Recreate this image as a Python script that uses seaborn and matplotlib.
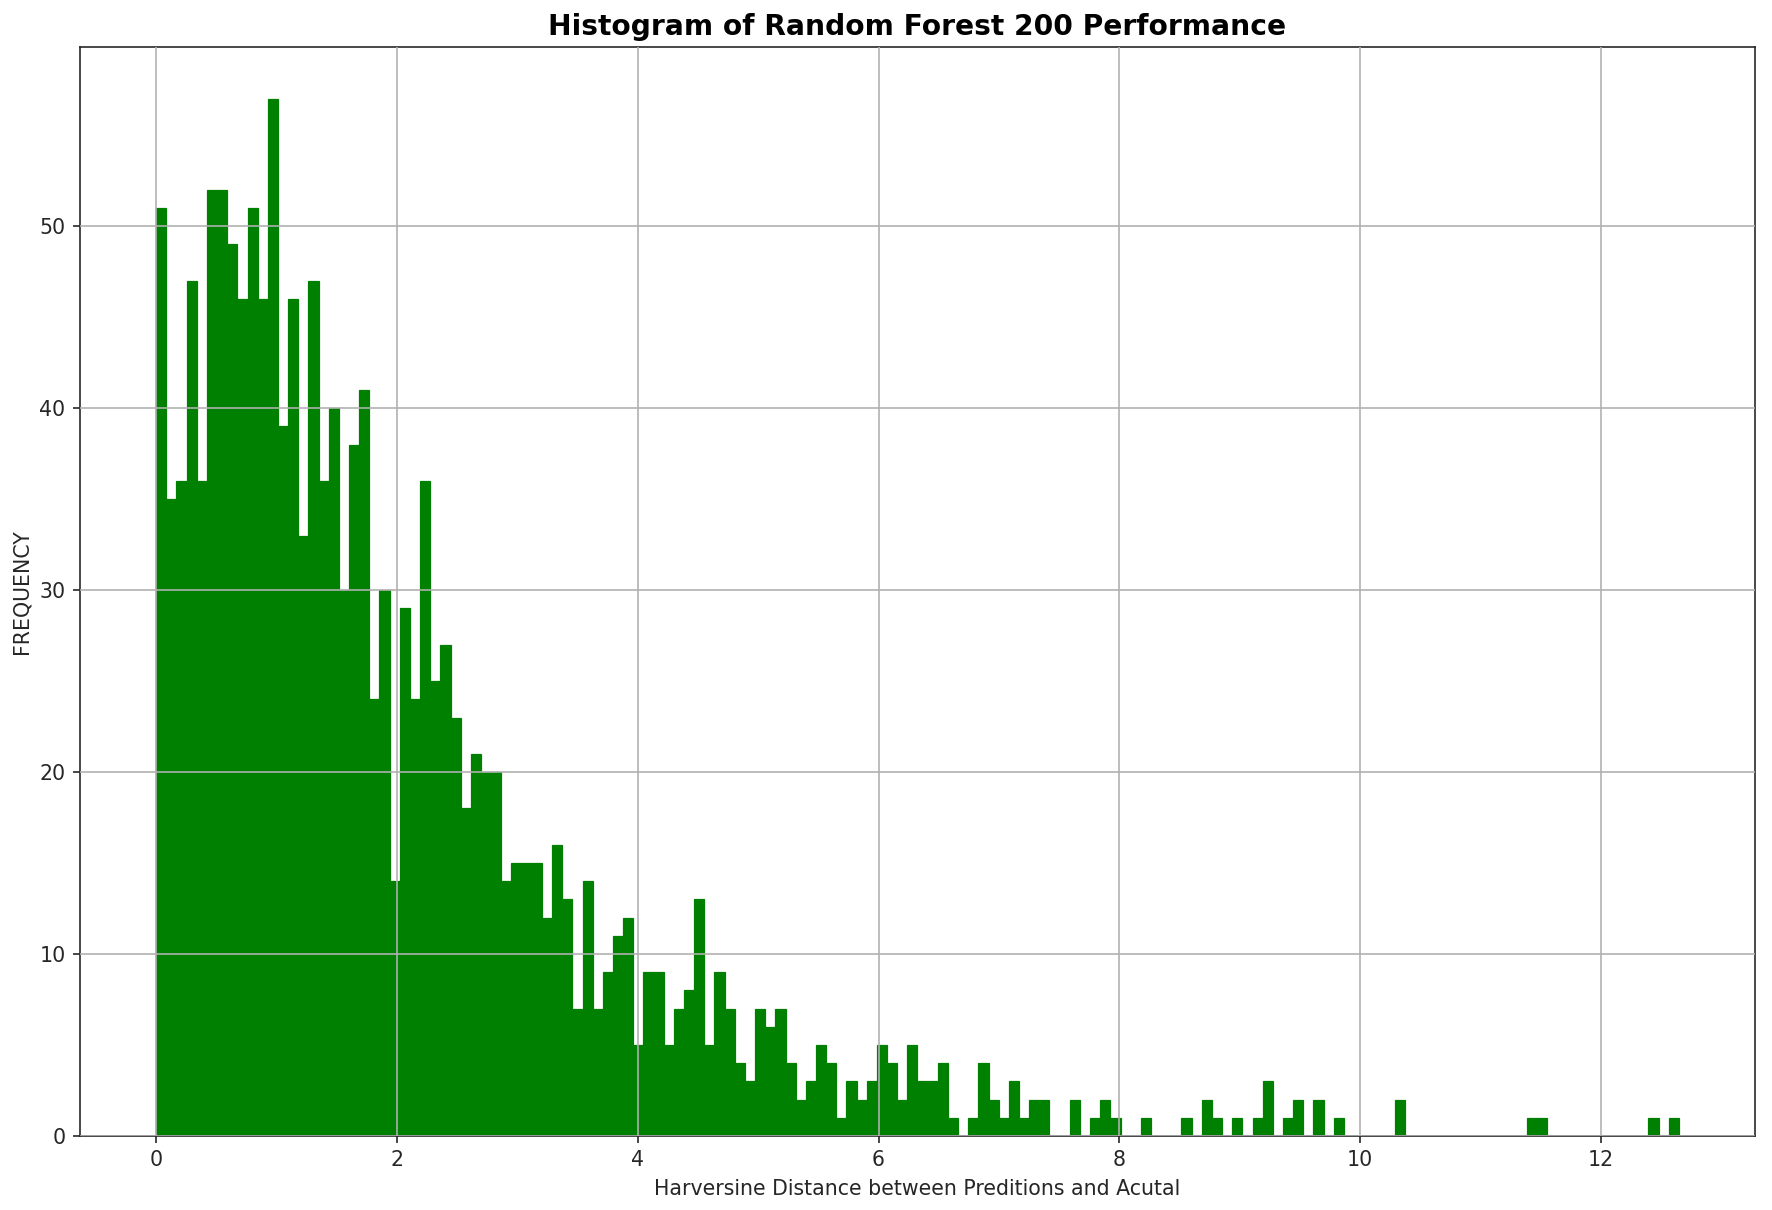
import numpy as np
import pandas as pd
import matplotlib
matplotlib.use("Agg")
import matplotlib.pyplot as plt
import seaborn as sns

# ---- data ----
x_min = 0.0
x_max = 12.647
counts = [
    51, 35, 36, 47, 36, 52, 52, 49, 46, 51,
    46, 57, 39, 46, 33, 47, 36, 40, 30, 38,
    41, 24, 30, 14, 29, 24, 36, 25, 27, 23,
    18, 21, 20, 20, 14, 15, 15, 15, 12, 16,
    13, 7, 14, 7, 9, 11, 12, 5, 9, 9,
    5, 7, 8, 13, 5, 9, 7, 4, 3, 7,
    6, 7, 4, 2, 3, 5, 4, 1, 3, 2,
    3, 5, 4, 2, 5, 3, 3, 4, 1, 0,
    1, 4, 2, 1, 3, 1, 2, 2, 0, 0,
    2, 0, 1, 2, 1, 0, 0, 1, 0, 0,
    0, 1, 0, 2, 1, 0, 1, 0, 1, 3,
    0, 1, 2, 0, 2, 0, 1, 0, 0, 0,
    0, 0, 2, 0, 0, 0, 0, 0, 0, 0,
    0, 0, 0, 0, 0, 1, 1, 0, 0, 0,
    0, 0, 0, 0, 0, 0, 0, 1, 0, 1,
]
title = "Histogram of Random Forest 200 Performance"
xlabel = "Harversine Distance between Preditions and Acutal"
ylabel = "FREQUENCY"

n_bins = len(counts)
edges = np.linspace(x_min, x_max, n_bins + 1)
centers = (edges[:-1] + edges[1:]) / 2
df = pd.DataFrame({"distance": centers, "count": counts})

sns.set_style("ticks")
plt.rcParams["font.family"] = ["DejaVu Sans"]

DPI = 148
fig, ax = plt.subplots(figsize=(1772 / DPI, 1210 / DPI), dpi=DPI)
fig.subplots_adjust(left=80 / 1772, right=1755 / 1772,
                    top=1 - 47 / 1210, bottom=1 - 1136 / 1210)

sns.histplot(data=df, x="distance", weights="count", bins=n_bins,
             binrange=(x_min, x_max), color="g", alpha=1.0,
             edgecolor="g", linewidth=0.6, ax=ax)

ax.set_axisbelow(False)
ax.grid(True, color="#b0b0b0", linewidth=0.8)
ax.set_title(title, fontsize=13.7, fontweight="bold", color="black")
ax.set_xlabel(xlabel, fontsize=10)
ax.set_ylabel(ylabel, fontsize=10)
ax.tick_params(labelsize=10)

fig.savefig("out.png", dpi=DPI)
